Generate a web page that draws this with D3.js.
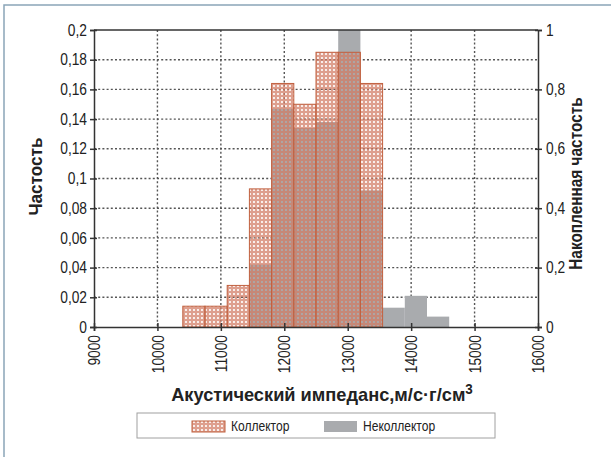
<!DOCTYPE html>
<html><head><meta charset="utf-8">
<script src="https://cdn.jsdelivr.net/npm/d3@7"></script>
<style>
html,body{margin:0;padding:0;background:#fff;}
svg text{font-family:"Liberation Sans",Arial,sans-serif;fill:#222;}
</style></head>
<body>
<svg id="chart" width="611" height="457"></svg>
<script>
// ---- data ----
const binStarts = [10400, 10750, 11100, 11450, 11800, 12150, 12500, 12850, 13200, 13550, 13900, 14250];
const binWidth = 350;
const collector    = [0.014, 0.014, 0.028, 0.093, 0.164, 0.150, 0.185, 0.185, 0.164, 0, 0, 0];
const nonCollector = [0, 0, 0, 0.042, 0.147, 0.134, 0.138, 0.200, 0.092, 0.013, 0.021, 0.007];
const xTicks = [9000, 10000, 11000, 12000, 13000, 14000, 15000, 16000];
const yTicks = [0, 0.02, 0.04, 0.06, 0.08, 0.1, 0.12, 0.14, 0.16, 0.18, 0.2];
const y2Ticks = [0, 0.2, 0.4, 0.6, 0.8, 1];
const seriesNames = ["Коллектор", "Неколлектор"];
const xTitle = "Акустический импеданс,м/с·г/см";
const yTitle = "Частость";
const y2Title = "Накопленная частость";

const svg = d3.select("#chart");
const L = 94, R = 538, T = 30, B = 327;
const x = d3.scaleLinear().domain([9000, 16000]).range([L, R]);
const y = d3.scaleLinear().domain([0, 0.2]).range([B, T]);
const y2 = d3.scaleLinear().domain([0, 1]).range([B, T]);
const fmt = v => String(+v.toFixed(2)).replace(".", ",");
const narrow = (sel, k) => sel.each(function () {
  const l = this.getComputedTextLength();
  this.setAttribute("textLength", l * k);
  this.setAttribute("lengthAdjust", "spacingAndGlyphs");
});

// outer frame
svg.append("path").attr("d", "M4,457 V5 H611").attr("fill", "none")
  .attr("stroke", "#8aa5b8").attr("stroke-width", 1.5);

const defs = svg.append("defs");
const pat = defs.append("pattern").attr("id", "hatch").attr("patternUnits", "userSpaceOnUse")
  .attr("width", 4).attr("height", 4);
pat.append("path").attr("d", "M0,0H4V4H0Z M2,0.9 A1.1,1.1 0 1,0 2,3.1 A1.1,1.1 0 1,0 2,0.9Z")
  .attr("fill", "#d27a62").attr("fill-rule", "evenodd").attr("opacity", 0.72);
defs.append("clipPath").attr("id", "plotclip").append("rect")
  .attr("x", L).attr("y", T).attr("width", R - L).attr("height", B - T);

// grid
const grid = svg.append("g").attr("stroke", "#555").attr("stroke-width", 1.4).attr("stroke-dasharray", "2,2.2");
grid.selectAll("line.h").data(yTicks.slice(1, -1)).join("line")
  .attr("x1", L).attr("x2", R).attr("y1", d => y(d)).attr("y2", d => y(d));
grid.selectAll("line.v").data(xTicks.slice(1, -1)).join("line")
  .attr("y1", T).attr("y2", B).attr("x1", d => x(d)).attr("x2", d => x(d));

// bars
const bars = svg.append("g").attr("clip-path", "url(#plotclip)");
bars.selectAll("rect.nc").data(binStarts.map((s, i) => ({s, v: nonCollector[i]})).filter(d => d.v > 0))
  .join("rect").attr("x", d => x(d.s)).attr("width", d => x(d.s + binWidth) - x(d.s))
  .attr("y", d => y(d.v)).attr("height", d => y(0) - y(d.v)).attr("fill", "#a9abae");
bars.selectAll("rect.c").data(binStarts.map((s, i) => ({s, v: collector[i]})).filter(d => d.v > 0))
  .join("rect").attr("x", d => x(d.s)).attr("width", d => x(d.s + binWidth) - x(d.s))
  .attr("y", d => y(d.v)).attr("height", d => y(0) - y(d.v)).attr("fill", "url(#hatch)")
  .attr("stroke", "#c0603f").attr("stroke-width", 1);

// frame lines
svg.append("line").attr("x1", L).attr("x2", R).attr("y1", T).attr("y2", T).attr("stroke", "#333").attr("stroke-width", 1.5);

// axes
const ax = svg.append("g").attr("transform", `translate(0,${B})`)
  .call(d3.axisBottom(x).tickValues(xTicks).tickSize(4).tickFormat(d3.format("d")));
ax.selectAll(".tick line").attr("y1", -4).attr("y2", 4);
ax.selectAll("text").attr("transform", "rotate(-90)").attr("text-anchor", "end")
  .attr("x", -8).attr("y", 0).attr("dy", "0.35em").style("font-size", "16px").call(narrow, 0.86);

const ay = svg.append("g").attr("transform", `translate(${L},0)`)
  .call(d3.axisLeft(y).tickValues(yTicks).tickSize(4).tickFormat(fmt));
ay.selectAll(".tick line").attr("x1", -4).attr("x2", 3);
ay.selectAll("text").attr("x", -7).style("font-size", "16px").call(narrow, 0.86);

const ay2 = svg.append("g").attr("transform", `translate(${R},0)`)
  .call(d3.axisRight(y2).tickValues(y2Ticks).tickSize(4).tickFormat(fmt));
ay2.selectAll(".tick line").attr("x1", -3).attr("x2", 4);
ay2.selectAll("text").attr("x", 8).style("font-size", "16px").call(narrow, 0.86);

svg.selectAll(".domain").attr("stroke", "#333").attr("stroke-width", 1.5);
svg.selectAll(".tick line").attr("stroke", "#333").attr("stroke-width", 1.5);

// titles
const xt = svg.append("text").attr("transform", `translate(${(L + R) / 2 + 6},401) scale(0.96,1)`)
  .attr("text-anchor", "middle").style("font-size", "19px").style("font-weight", "bold");
xt.append("tspan").text(xTitle);
xt.append("tspan").attr("dy", -7).style("font-size", "14px").text("3");

svg.append("text").attr("transform", `translate(42,${(T + B) / 2 - 2}) rotate(-90) scale(0.98,1)`).attr("text-anchor", "middle")
  .style("font-size", "17.5px").style("font-weight", "bold").text(yTitle);
svg.append("text").attr("transform", `translate(582,${(T + B) / 2 + 5}) rotate(-90) scale(0.88,1)`).attr("text-anchor", "middle")
  .style("font-size", "17.5px").style("font-weight", "bold").text(y2Title);

// legend
const lg = svg.append("g");
lg.append("rect").attr("x", 137).attr("y", 413).attr("width", 358).attr("height", 25)
  .attr("fill", "#fff").attr("stroke", "#a0a0a0").attr("stroke-width", 1);
const items = [{name: seriesNames[0], fill: "url(#hatch)", stroke: "#c0603f", x: 192},
               {name: seriesNames[1], fill: "#a9abae", stroke: "none", x: 324}];
items.forEach(it => {
  lg.append("rect").attr("x", it.x).attr("y", 421).attr("width", 33).attr("height", 11)
    .attr("fill", it.fill).attr("stroke", it.stroke);
  lg.append("text").attr("x", it.x + 39).attr("y", 431).style("font-size", "14px").text(it.name).call(narrow, 0.86);
});
</script>
</body></html>
